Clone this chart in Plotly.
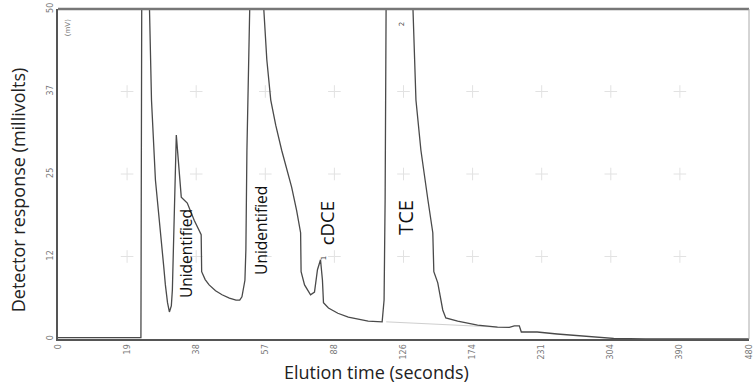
import plotly.graph_objects as go

# ---- data (x in axis-position units; each tick step = 1 unit) ----
tick_labels = ["0", "19", "38", "57", "88", "126", "174", "231", "304", "390", "480"]
y_tick_vals = [0, 12.5, 25, 37.5, 50]
y_tick_labels = ["0", "12", "25", "37", "50"]

time_pos = [0, 1.20, 1.212, 1.26, 1.324, 1.353, 1.41, 1.47, 1.496, 1.53, 1.554, 1.585, 1.612,
            1.64, 1.655, 1.69, 1.712,
            1.741, 1.784, 1.871, 1.971, 2.072, 2.079, 2.13, 2.187, 2.28, 2.374, 2.48, 2.576,
            2.63, 2.662, 2.705, 2.719,
            2.734, 2.748, 2.85, 2.978, 3.022, 3.079, 3.151, 3.237, 3.309, 3.381, 3.453, 3.511,
            3.518, 3.568, 3.655, 3.712,
            3.755, 3.799, 3.827, 3.842, 3.914, 4.05, 4.201, 4.35, 4.489, 4.691, 4.719, 4.734,
            4.748, 4.95,
            5.137, 5.180, 5.252, 5.353, 5.424, 5.439, 5.496, 5.568, 5.612, 5.784, 6.072, 6.36,
            6.475, 6.532, 6.604, 6.676, 6.705, 6.935, 7.223, 7.554, 8.043, 8.5, 10]
response_mv = [0.2, 0.2, 52, 95, 50, 36.2, 24.1, 18.0, 15.0, 11.0, 8.2, 5.5, 4.1,
               5.0, 7.4, 21.1, 30.9,
               27.1, 21.5, 20.6, 18.0, 15.8, 10.2, 9.0, 8.2, 7.3, 6.7, 6.2, 5.9,
               5.9, 6.4, 8.9, 13.5,
               28.6, 50, 90, 50, 42.3, 36.2, 32.4, 28.6, 25.6, 23.0, 19.5, 16.1,
               10.2, 8.2, 6.7, 7.1,
               10.5, 12.0, 8.9, 5.5, 4.7, 3.9, 3.3, 2.95, 2.7, 2.6, 5.9, 21.1,
               50, 95,
               50, 36.2, 28.6, 21.1, 16.1, 10.2, 8.5, 4.4, 3.2, 2.7, 2.1, 1.8,
               1.7, 1.75, 2.0, 2.0, 1.06, 1.06, 0.76, 0.45, 0.08, 0.0, 0.0]

baseline_pos = [4.75, 6.36]
baseline_mv = [2.6, 1.8]

peak_names = ["Unidentified", "Unidentified", "cDCE", "TCE"]
peak_label_pos = [1.856, 2.935, 3.885, 5.036]
peak_label_mv = [12.9, 16.5, 17.6, 18.5]
peak_label_size = [15.5, 15.5, 18.5, 20]

peak_numbers = ["1", "2"]
peak_number_pos = [3.86, 4.98]
peak_number_mv = [12.2, 47.7]

grid_x = [1, 2, 3, 4, 5, 6, 7, 8, 9]
grid_y = [12.5, 25, 37.5]

fig = go.Figure()

# grid crosses
gx, gy = [], []
for yy in grid_y:
    for xx in grid_x:
        gx.append(xx)
        gy.append(yy)
fig.add_trace(go.Scatter(x=gx, y=gy, mode="markers", hoverinfo="skip",
                         marker=dict(symbol="cross-thin", size=9,
                                     line=dict(color="#e2e2e2", width=1)),
                         showlegend=False, cliponaxis=False))

fig.add_trace(go.Scatter(x=baseline_pos, y=baseline_mv, mode="lines",
                         line=dict(color="#cfcfcf", width=1), showlegend=False))

fig.add_trace(go.Scatter(x=time_pos, y=response_mv, mode="lines",
                         line=dict(color="#4a4a4a", width=1.3), showlegend=False))

annotations = []
for name, px, py, sz in zip(peak_names, peak_label_pos, peak_label_mv, peak_label_size):
    annotations.append(dict(x=px, y=py, xref="x", yref="y", text=name, showarrow=False,
                            textangle=-90, font=dict(family="Open Sans", size=sz, color="#111"),
                            xanchor="center", yanchor="middle"))
for name, px, py in zip(peak_numbers, peak_number_pos, peak_number_mv):
    annotations.append(dict(x=px, y=py, xref="x", yref="y", text=name, showarrow=False,
                            textangle=-90, font=dict(family="DejaVu Sans", size=7, color="#444"),
                            xanchor="center", yanchor="middle"))
annotations.append(dict(x=0.005, y=0.975, xref="paper", yref="paper", text="(mV)",
                        showarrow=False, textangle=-90,
                        font=dict(family="DejaVu Sans", size=7, color="#777"),
                        xanchor="left", yanchor="top"))
annotations.append(dict(x=-0.0575, y=0.4515, xref="paper", yref="paper",
                        text="Detector response (millivolts)", showarrow=False, textangle=-90,
                        font=dict(family="Open Sans", size=18, color="#222"),
                        xanchor="center", yanchor="middle"))
annotations.append(dict(x=0.4605, y=-0.1, xref="paper", yref="paper",
                        text="Elution time (seconds)", showarrow=False,
                        font=dict(family="Open Sans", size=18, color="#222"),
                        xanchor="center", yanchor="middle"))

fig.update_layout(
    width=755, height=391,
    margin=dict(l=58, r=1, t=9, b=52),
    paper_bgcolor="white", plot_bgcolor="white",
    annotations=annotations,
    xaxis=dict(range=[0, 10], tickmode="array", tickvals=list(range(11)), ticktext=tick_labels,
               tickangle=-90, showgrid=False, zeroline=False, showline=True,
               linecolor="#555", linewidth=2, ticks="", ticklabeloverflow="allow",
               tickfont=dict(family="DejaVu Sans", size=8, color="#777")),
    yaxis=dict(range=[0, 50], tickmode="array", tickvals=y_tick_vals, ticktext=y_tick_labels,
               tickangle=-90, showgrid=False, zeroline=False, showline=True,
               linecolor="#555", linewidth=2, ticks="",
               tickfont=dict(family="DejaVu Sans", size=8, color="#777")),
    shapes=[
        dict(type="line", xref="x domain", yref="y domain", x0=0, x1=1, y0=1, y1=1,
             line=dict(color="#777", width=2.5)),
        dict(type="line", xref="x domain", yref="y domain", x0=1, x1=1, y0=0, y1=1,
             line=dict(color="#aaa", width=1)),
    ],
)

fig.write_html("out.html")
